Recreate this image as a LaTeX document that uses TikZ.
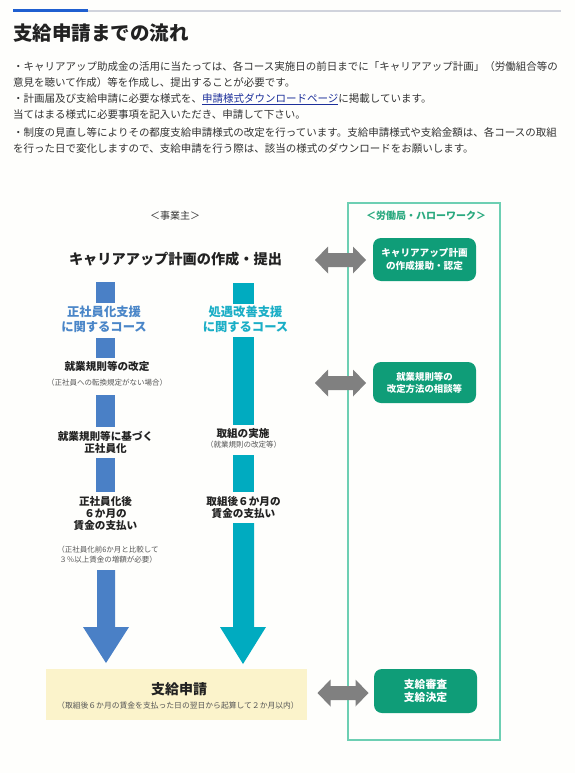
\documentclass[tikz,border=0pt]{standalone}
\usepackage{fontspec}
\setmainfont{Noto Sans CJK JP}
\definecolor{bg}{HTML}{FEFEFC}
\definecolor{txt}{HTML}{333333}
\definecolor{dark}{HTML}{222222}
\definecolor{notegray}{HTML}{555555}
\definecolor{linkc}{HTML}{1C2F9A}
\definecolor{topblue}{HTML}{1F5FD0}
\definecolor{topgray}{HTML}{D0D3DC}
\definecolor{bluecol}{HTML}{4A80C6}
\definecolor{bluetxt}{HTML}{4A86C8}
\definecolor{tealcol}{HTML}{00ABC0}
\definecolor{tealtxt}{HTML}{1AAEC6}
\definecolor{gboxc}{HTML}{0F9D78}
\definecolor{gborder}{HTML}{6DCFB3}
\definecolor{gtxt}{HTML}{2AA97F}
\definecolor{arrowgray}{HTML}{808080}
\definecolor{yel}{HTML}{FBF3CB}
\tikzset{
  body/.style={anchor=west, inner sep=0pt, text=txt, font=\fontsize{10.5}{12}\selectfont},
  lbl/.style={inner sep=0pt, align=center, text=dark, font=\bfseries\fontsize{10.6}{12.3}\selectfont},
  note/.style={inner sep=0pt, align=center, text=notegray, font=\fontsize{7.5}{10}\selectfont},
  course/.style={inner sep=0pt, align=center, font=\bfseries\fontsize{12.3}{15}\selectfont},
  gbox/.style={fill=gboxc, rounded corners=8pt, text=white, align=center, inner sep=0pt, minimum width=103pt, minimum height=43pt},
  dblarr/.pic={\fill[arrowgray] (-25.5,0) -- (-12.5,-13.5) -- (-12.5,-7) -- (12.5,-7) -- (12.5,-13.5) -- (25.5,0) -- (12.5,13.5) -- (12.5,7) -- (-12.5,7) -- (-12.5,13.5) -- cycle;}
}
\begin{document}
\begin{tikzpicture}[x=1pt,y=-1pt]
\fill[bg] (0,0) rectangle (575,773);
\useasboundingbox (0,0) rectangle (575,773);
% header rule
\fill[topgray] (88,10.5) rectangle (561,12.5);
\fill[topblue] (13,9.5) rectangle (88,12.5);
% title
\node[anchor=west, inner sep=0pt, text=dark, font=\bfseries\fontsize{19.5}{22}\selectfont] (title) at (13,33) {支給申請までの流れ};
% body text
\node[body] (l1) at (13,67) {・キャリアアップ助成金の活用に当たっては、各コース実施日の前日までに「キャリアアップ計画」（労働組合等の};
\node[body] (l2) at (13,83) {意見を聴いて作成）等を作成し、提出することが必要です。};
\node[body] (l3) at (13,99) {・計画届及び支給申請に必要な様式を、\textcolor{linkc}{\underline{申請様式ダウンロードページ}}に掲載しています。};
\node[body] (l4) at (13,115) {当てはまる様式に必要事項を記入いただき、申請して下さい。};
\node[body] (l5) at (13,132) {・制度の見直し等によりその都度支給申請様式の改定を行っています。支給申請様式や支給金額は、各コースの取組};
\node[body] (l6) at (13,148) {を行った日で変化しますので、支給申請を行う際は、該当の様式のダウンロードをお願いします。};

% right frame
\node[draw=gborder, line width=1.3pt, minimum width=152pt, minimum height=537pt, inner sep=0pt] (rbox) at (424,471.5) {};
\node[inner sep=0pt, text=gtxt, font=\bfseries\fontsize{10}{12}\selectfont] (rhead) at (426,216) {＜労働局・ハローワーク＞};
\node[inner sep=0pt, text=txt, font=\fontsize{10}{12}\selectfont] (lhead) at (175,216) {＜事業主＞};

% top step
\node[inner sep=0pt, text=dark, font=\bfseries\fontsize{14.2}{16}\selectfont] (plan) at (175.5,259) {キャリアアップ計画の作成・提出};

% blue column
\fill[bluecol] (96,282) rectangle (115,303);
\node[course, text=bluetxt] (bcourse) at (104,319.5) {正社員化支援\\に関するコース};
\fill[bluecol] (96,338) rectangle (115,358);
\node[lbl] (b1) at (107,366) {就業規則等の改定};
\node[note] (b1n) at (107,383) {（正社員への転換規定がない場合）};
\fill[bluecol] (96,395) rectangle (115,427);
\node[lbl] (b2) at (105.5,442.5) {就業規則等に基づく\\正社員化};
\fill[bluecol] (96,458) rectangle (115,492);
\node[lbl] (b3) at (105.5,513.5) {正社員化後\\６か月の\\賃金の支払い};
\node[note] (b3n) at (108,554.5) {（正社員化前6か月と比較して\\３％以上賃金の増額が必要）};
\fill[bluecol] (97,570) -- (115,570) -- (115,627) -- (129,627) -- (106,663) -- (83,627) -- (97,627) -- cycle;

% teal column
\fill[tealcol] (233,283) rectangle (254,304);
\node[course, text=tealtxt] (tcourse) at (245.5,319.5) {処遇改善支援\\に関するコース};
\fill[tealcol] (233,337) rectangle (254,425);
\node[lbl] (t1) at (243,433) {取組の実施};
\node[note] (t1n) at (243.5,445) {（就業規則の改定等）};
\fill[tealcol] (233,455) rectangle (254,492);
\node[lbl] (t2) at (243.5,507.5) {取組後６か月の\\賃金の支払い};
\fill[tealcol] (233,523) -- (254,523) -- (254,627) -- (266,627) -- (243,664) -- (220,627) -- (233,627) -- cycle;

% yellow box
\node[fill=yel, minimum width=261pt, minimum height=51pt, inner sep=0pt] (ybox) at (176.5,694.5) {};
\node[inner sep=0pt, text=dark, font=\bfseries\fontsize{14}{16}\selectfont] (apply) at (179,689) {支給申請};
\node[inner sep=0pt, text=notegray, font=\fontsize{7.8}{9}\selectfont] (applyn) at (178,706) {（取組後６か月の賃金を支払った日の翌日から起算して２か月以内）};

% green boxes
\node[gbox, font=\bfseries\fontsize{9.6}{13}\selectfont] (g1) at (424.5,259.5) {キャリアアップ計画\\の作成援助・認定};
\node[gbox, minimum height=41pt, font=\bfseries\fontsize{9.4}{12}\selectfont] (g2) at (424.5,382.5) {就業規則等の\\改定方法の相談等};
\node[gbox, minimum height=44pt, font=\bfseries\fontsize{10.8}{12.8}\selectfont] (g3) at (425.5,691) {支給審査\\支給決定};

% gray double arrows
\pic at (340.5,260) {dblarr};
\pic at (340.5,383) {dblarr};
\pic at (343,693) {dblarr};
\end{tikzpicture}
\end{document}
